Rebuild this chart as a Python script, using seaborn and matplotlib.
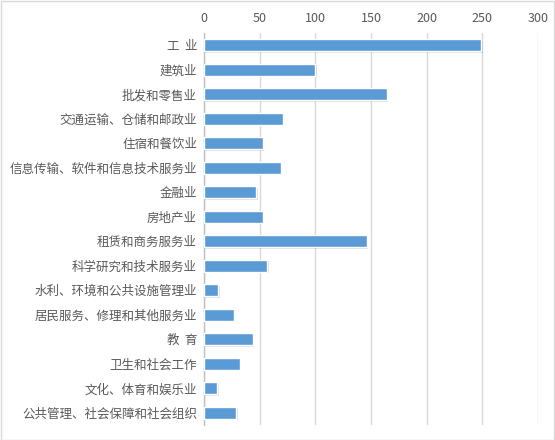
import numpy as np
import pandas as pd
import seaborn as sns
import matplotlib.pyplot as plt
import matplotlib.patheffects as pe
from matplotlib.patches import Rectangle

# data
industries = ["工  业", "建筑业", "批发和零售业", "交通运输、仓储和邮政业", "住宿和餐饮业",
              "信息传输、软件和信息技术服务业", "金融业", "房地产业", "租赁和商务服务业",
              "科学研究和技术服务业", "水利、环境和公共设施管理业", "居民服务、修理和其他服务业",
              "教  育", "卫生和社会工作", "文化、体育和娱乐业", "公共管理、社会保障和社会组织"]
values = [249, 100, 164, 71, 53, 69, 47, 53, 146, 57, 13, 27, 44, 32, 12, 29]
x_ticks = [0, 50, 100, 150, 200, 250, 300]

df = pd.DataFrame({"industry": industries, "value": values})

sns.set_style("white")
plt.rcParams['font.family'] = ['Noto Sans CJK SC', 'DejaVu Sans']

fig = plt.figure(figsize=(5.55, 4.4), dpi=100)
ax = fig.add_axes([204 / 555, 1 - 425 / 440, 334 / 555, 392 / 440])

sns.barplot(data=df, x="value", y="industry", orient="h", color="#5B9BD5",
            width=0.5, saturation=1, ax=ax, zorder=3)

# soft drop shadow like the original
for bar in ax.patches:
    bar.set_path_effects([pe.SimplePatchShadow(offset=(1, -1), alpha=0.12, shadow_rgbFace="#000000"),
                          pe.Normal()])

ax.set_xlim(0, 300)
ax.set_ylim(15.5, -0.5)
ax.set_xticks(x_ticks)
ax.xaxis.tick_top()
ax.grid(axis="x", color="#D9D9D9", linewidth=1, zorder=0)
ax.set_axisbelow(True)
ax.tick_params(axis="both", length=0, labelsize=9, colors="#595959", pad=6)
ax.tick_params(axis="y", pad=5)
ax.set_xlabel("")
ax.set_ylabel("")
for s in ["top", "right", "bottom"]:
    ax.spines[s].set_visible(False)
ax.spines["left"].set_color("#BFBFBF")
ax.spines["left"].set_linewidth(1)

# chart border
fig.patches.append(Rectangle((0.001, 0.001), 0.997, 0.997, transform=fig.transFigure,
                             fill=False, edgecolor="#D9D9D9", linewidth=1))

fig.savefig("out.png", dpi=100)
